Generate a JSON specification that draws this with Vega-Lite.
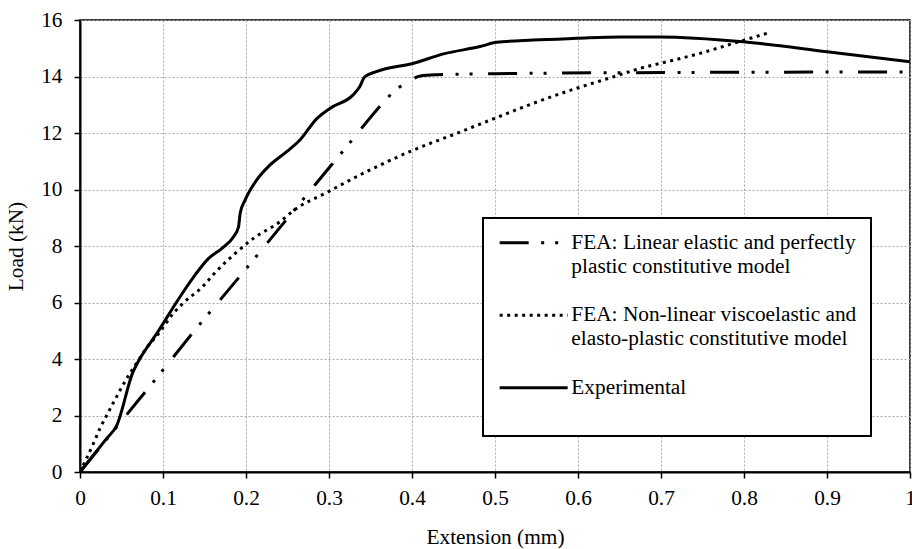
{
  "$schema": "https://vega.github.io/schema/vega-lite/v6.json",
  "width": 830,
  "height": 452,
  "autosize": "none",
  "padding": {"left": 80, "top": 20, "right": 2, "bottom": 77},
  "background": "white",
  "config": {
    "font": "Liberation Serif",
    "view": {"stroke": "black", "strokeWidth": 1.5},
    "style": {"guide-label": {"lineHeight": 24}},
    "axis": {
      "labelFont": "Liberation Serif",
      "titleFont": "Liberation Serif",
      "labelFontSize": 21.33,
      "titleFontSize": 21.33,
      "titleFontWeight": "normal",
      "labelColor": "black",
      "titleColor": "black",
      "domainColor": "black",
      "domainWidth": 2,
      "tickColor": "black",
      "tickWidth": 1.5,
      "tickSize": 6,
      "gridColor": "#a8a8a8",
      "gridDash": [2, 2],
      "gridWidth": 1
    },
    "legend": {
      "labelFont": "Liberation Serif",
      "labelFontSize": 21.33,
      "labelColor": "black",
      "strokeWidth": 2
    }
  },
  "data": {
    "values": [
      {"s": "FEA: Linear elastic and perfectly|plastic constitutive model", "x": 0, "y": 0},
      {"s": "FEA: Linear elastic and perfectly|plastic constitutive model", "x": 0.056, "y": 2.02},
      {"s": "FEA: Linear elastic and perfectly|plastic constitutive model", "x": 0.1, "y": 3.61},
      {"s": "FEA: Linear elastic and perfectly|plastic constitutive model", "x": 0.132, "y": 4.79},
      {"s": "FEA: Linear elastic and perfectly|plastic constitutive model", "x": 0.189, "y": 6.8},
      {"s": "FEA: Linear elastic and perfectly|plastic constitutive model", "x": 0.245, "y": 8.8},
      {"s": "FEA: Linear elastic and perfectly|plastic constitutive model", "x": 0.283, "y": 10.16},
      {"s": "FEA: Linear elastic and perfectly|plastic constitutive model", "x": 0.325, "y": 11.65},
      {"s": "FEA: Linear elastic and perfectly|plastic constitutive model", "x": 0.357, "y": 12.8},
      {"s": "FEA: Linear elastic and perfectly|plastic constitutive model", "x": 0.37, "y": 13.23},
      {"s": "FEA: Linear elastic and perfectly|plastic constitutive model", "x": 0.383, "y": 13.58},
      {"s": "FEA: Linear elastic and perfectly|plastic constitutive model", "x": 0.4, "y": 13.9},
      {"s": "FEA: Linear elastic and perfectly|plastic constitutive model", "x": 0.41, "y": 14.02},
      {"s": "FEA: Linear elastic and perfectly|plastic constitutive model", "x": 0.43, "y": 14.06},
      {"s": "FEA: Linear elastic and perfectly|plastic constitutive model", "x": 0.5, "y": 14.1},
      {"s": "FEA: Linear elastic and perfectly|plastic constitutive model", "x": 0.7, "y": 14.14},
      {"s": "FEA: Linear elastic and perfectly|plastic constitutive model", "x": 1.0, "y": 14.16},

      {"s": "FEA: Non-linear viscoelastic and|elasto-plastic constitutive model", "x": 0, "y": 0},
      {"s": "FEA: Non-linear viscoelastic and|elasto-plastic constitutive model", "x": 0.016, "y": 1.0},
      {"s": "FEA: Non-linear viscoelastic and|elasto-plastic constitutive model", "x": 0.024, "y": 1.54},
      {"s": "FEA: Non-linear viscoelastic and|elasto-plastic constitutive model", "x": 0.033, "y": 2.05},
      {"s": "FEA: Non-linear viscoelastic and|elasto-plastic constitutive model", "x": 0.042, "y": 2.55},
      {"s": "FEA: Non-linear viscoelastic and|elasto-plastic constitutive model", "x": 0.051, "y": 3.04},
      {"s": "FEA: Non-linear viscoelastic and|elasto-plastic constitutive model", "x": 0.061, "y": 3.53},
      {"s": "FEA: Non-linear viscoelastic and|elasto-plastic constitutive model", "x": 0.068, "y": 3.85},
      {"s": "FEA: Non-linear viscoelastic and|elasto-plastic constitutive model", "x": 0.08, "y": 4.38},
      {"s": "FEA: Non-linear viscoelastic and|elasto-plastic constitutive model", "x": 0.096, "y": 4.95},
      {"s": "FEA: Non-linear viscoelastic and|elasto-plastic constitutive model", "x": 0.112, "y": 5.6},
      {"s": "FEA: Non-linear viscoelastic and|elasto-plastic constitutive model", "x": 0.124, "y": 5.97},
      {"s": "FEA: Non-linear viscoelastic and|elasto-plastic constitutive model", "x": 0.149, "y": 6.6},
      {"s": "FEA: Non-linear viscoelastic and|elasto-plastic constitutive model", "x": 0.161, "y": 7.0},
      {"s": "FEA: Non-linear viscoelastic and|elasto-plastic constitutive model", "x": 0.187, "y": 7.74},
      {"s": "FEA: Non-linear viscoelastic and|elasto-plastic constitutive model", "x": 0.209, "y": 8.27},
      {"s": "FEA: Non-linear viscoelastic and|elasto-plastic constitutive model", "x": 0.241, "y": 8.86},
      {"s": "FEA: Non-linear viscoelastic and|elasto-plastic constitutive model", "x": 0.257, "y": 9.25},
      {"s": "FEA: Non-linear viscoelastic and|elasto-plastic constitutive model", "x": 0.299, "y": 9.92},
      {"s": "FEA: Non-linear viscoelastic and|elasto-plastic constitutive model", "x": 0.341, "y": 10.57},
      {"s": "FEA: Non-linear viscoelastic and|elasto-plastic constitutive model", "x": 0.402, "y": 11.4},
      {"s": "FEA: Non-linear viscoelastic and|elasto-plastic constitutive model", "x": 0.454, "y": 11.99},
      {"s": "FEA: Non-linear viscoelastic and|elasto-plastic constitutive model", "x": 0.498, "y": 12.5},
      {"s": "FEA: Non-linear viscoelastic and|elasto-plastic constitutive model", "x": 0.546, "y": 13.05},
      {"s": "FEA: Non-linear viscoelastic and|elasto-plastic constitutive model", "x": 0.598, "y": 13.58},
      {"s": "FEA: Non-linear viscoelastic and|elasto-plastic constitutive model", "x": 0.643, "y": 13.99},
      {"s": "FEA: Non-linear viscoelastic and|elasto-plastic constitutive model", "x": 0.675, "y": 14.29},
      {"s": "FEA: Non-linear viscoelastic and|elasto-plastic constitutive model", "x": 0.707, "y": 14.52},
      {"s": "FEA: Non-linear viscoelastic and|elasto-plastic constitutive model", "x": 0.747, "y": 14.82},
      {"s": "FEA: Non-linear viscoelastic and|elasto-plastic constitutive model", "x": 0.787, "y": 15.17},
      {"s": "FEA: Non-linear viscoelastic and|elasto-plastic constitutive model", "x": 0.83, "y": 15.55},

      {"s": "Experimental", "x": 0, "y": 0},
      {"s": "Experimental", "x": 0.032, "y": 1.18},
      {"s": "Experimental", "x": 0.044, "y": 1.63},
      {"s": "Experimental", "x": 0.064, "y": 3.55},
      {"s": "Experimental", "x": 0.07, "y": 3.9},
      {"s": "Experimental", "x": 0.094, "y": 4.97},
      {"s": "Experimental", "x": 0.118, "y": 6.09},
      {"s": "Experimental", "x": 0.137, "y": 6.91},
      {"s": "Experimental", "x": 0.155, "y": 7.56},
      {"s": "Experimental", "x": 0.171, "y": 7.92},
      {"s": "Experimental", "x": 0.185, "y": 8.33},
      {"s": "Experimental", "x": 0.191, "y": 8.68},
      {"s": "Experimental", "x": 0.193, "y": 9.16},
      {"s": "Experimental", "x": 0.199, "y": 9.63},
      {"s": "Experimental", "x": 0.213, "y": 10.34},
      {"s": "Experimental", "x": 0.229, "y": 10.87},
      {"s": "Experimental", "x": 0.249, "y": 11.34},
      {"s": "Experimental", "x": 0.265, "y": 11.75},
      {"s": "Experimental", "x": 0.285, "y": 12.5},
      {"s": "Experimental", "x": 0.301, "y": 12.87},
      {"s": "Experimental", "x": 0.329, "y": 13.35},
      {"s": "Experimental", "x": 0.337, "y": 13.64},
      {"s": "Experimental", "x": 0.343, "y": 13.99},
      {"s": "Experimental", "x": 0.357, "y": 14.17},
      {"s": "Experimental", "x": 0.402, "y": 14.47},
      {"s": "Experimental", "x": 0.438, "y": 14.8},
      {"s": "Experimental", "x": 0.482, "y": 15.06},
      {"s": "Experimental", "x": 0.502, "y": 15.21},
      {"s": "Experimental", "x": 0.546, "y": 15.29},
      {"s": "Experimental", "x": 0.598, "y": 15.35},
      {"s": "Experimental", "x": 0.651, "y": 15.4},
      {"s": "Experimental", "x": 0.699, "y": 15.4},
      {"s": "Experimental", "x": 0.799, "y": 15.23},
      {"s": "Experimental", "x": 0.9, "y": 14.88},
      {"s": "Experimental", "x": 1.0, "y": 14.52}
    ]
  },
  "mark": {"type": "line", "color": "black", "strokeWidth": 3, "strokeCap": "butt", "strokeJoin": "round", "interpolate": "monotone", "clip": true},
  "encoding": {
    "x": {
      "field": "x",
      "type": "quantitative",
      "scale": {"domain": [0, 1], "nice": false, "zero": false},
      "axis": {
        "values": [0, 0.1, 0.2, 0.3, 0.4, 0.5, 0.6, 0.7, 0.8, 0.9, 1],
        "format": "~g",
        "title": "Extension (mm)",
        "labelPadding": 9,
        "titlePadding": 18,
        "labelFlush": false
      }
    },
    "y": {
      "field": "y",
      "type": "quantitative",
      "scale": {"domain": [0, 16], "nice": false},
      "axis": {
        "values": [0, 2, 4, 6, 8, 10, 12, 14, 16],
        "title": "Load (kN)",
        "labelPadding": 12,
        "titlePadding": 14,
        "labelFlush": false
      }
    },
    "strokeDash": {
      "field": "s",
      "type": "nominal",
      "scale": {
        "domain": [
          "FEA: Linear elastic and perfectly|plastic constitutive model",
          "FEA: Non-linear viscoelastic and|elasto-plastic constitutive model",
          "Experimental"
        ],
        "range": [[29, 12.5, 3, 11, 3, 15.5], [3, 4.5], []]
      },
      "legend": {
        "title": null,
        "orient": "none",
        "legendX": 403,
        "legendY": 198,
        "fillColor": "white",
        "strokeColor": "black",
        "padding": 14,
        "symbolType": "M-4,0H4",
        "symbolSize": 289,
        "symbolStrokeWidth": 3,
        "symbolStrokeColor": "black",
        "symbolOffset": 26,
        "labelOffset": 27,
        "labelLimit": 500,
        "labelBaseline": "middle",
        "rowPadding": 26.5,
        "labelExpr": "datum.label == 'Experimental' ? ['Experimental', ' '] : split(datum.label, '|')"
      }
    }
  }
}
